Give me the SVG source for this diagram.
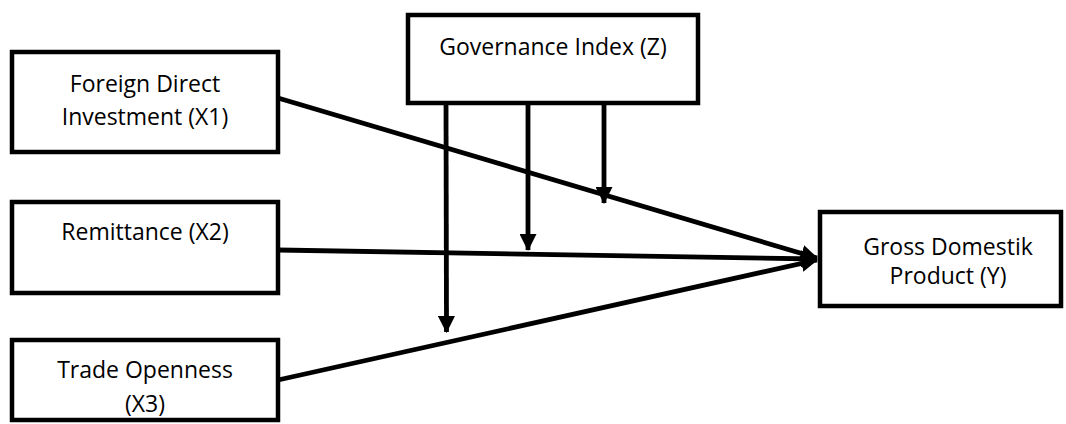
<svg xmlns="http://www.w3.org/2000/svg" width="1066" height="424" viewBox="0 0 1066 424">
<style>
.box{fill:#fff;stroke:#000;stroke-width:4.5}
.lbl{font-family:"Open Sans","Liberation Sans",sans-serif;font-size:23px;fill:#000;text-anchor:middle}
.con{stroke:#000;stroke-width:4.8;fill:none;marker-end:url(#ah)}
</style>
<defs>
<marker id="ah" viewBox="0 0 16 16" markerWidth="17" markerHeight="17" refX="15" refY="8" orient="auto" markerUnits="userSpaceOnUse">
<path d="M0,0 L16,8 L0,16 z" fill="#000"/>
</marker>
</defs>
<rect width="1066" height="424" fill="#fff"/>
<g id="connectors">
<line class="con" x1="278" y1="98" x2="817" y2="258"/>
<line class="con" x1="278" y1="250" x2="817" y2="259"/>
<line class="con" x1="278" y1="380" x2="817" y2="260"/>
<line class="con" x1="446" y1="103" x2="446.5" y2="332"/>
<line class="con" x1="528" y1="103" x2="528" y2="250"/>
<line class="con" x1="604" y1="103" x2="604" y2="203"/>
</g>
<g id="governance">
<rect class="box" x="408" y="15" width="290" height="88"/>
<text class="lbl" x="553" y="55">Governance Index (Z)</text>
</g>
<g id="fdi">
<rect class="box" x="12" y="52" width="266" height="100"/>
<text class="lbl" x="145" y="92">Foreign Direct</text>
<text class="lbl" x="145" y="125">Investment (X1)</text>
</g>
<g id="remittance">
<rect class="box" x="12" y="202" width="266" height="91"/>
<text class="lbl" x="145" y="240">Remittance (X2)</text>
</g>
<g id="trade">
<rect class="box" x="12" y="340" width="266" height="80"/>
<text class="lbl" x="145" y="378">Trade Openness</text>
<text class="lbl" x="145" y="412">(X3)</text>
</g>
<g id="gdp">
<rect class="box" x="820" y="212" width="241" height="94"/>
<text class="lbl" x="948" y="255">Gross Domestik</text>
<text class="lbl" x="948" y="284">Product (Y)</text>
</g>
</svg>
